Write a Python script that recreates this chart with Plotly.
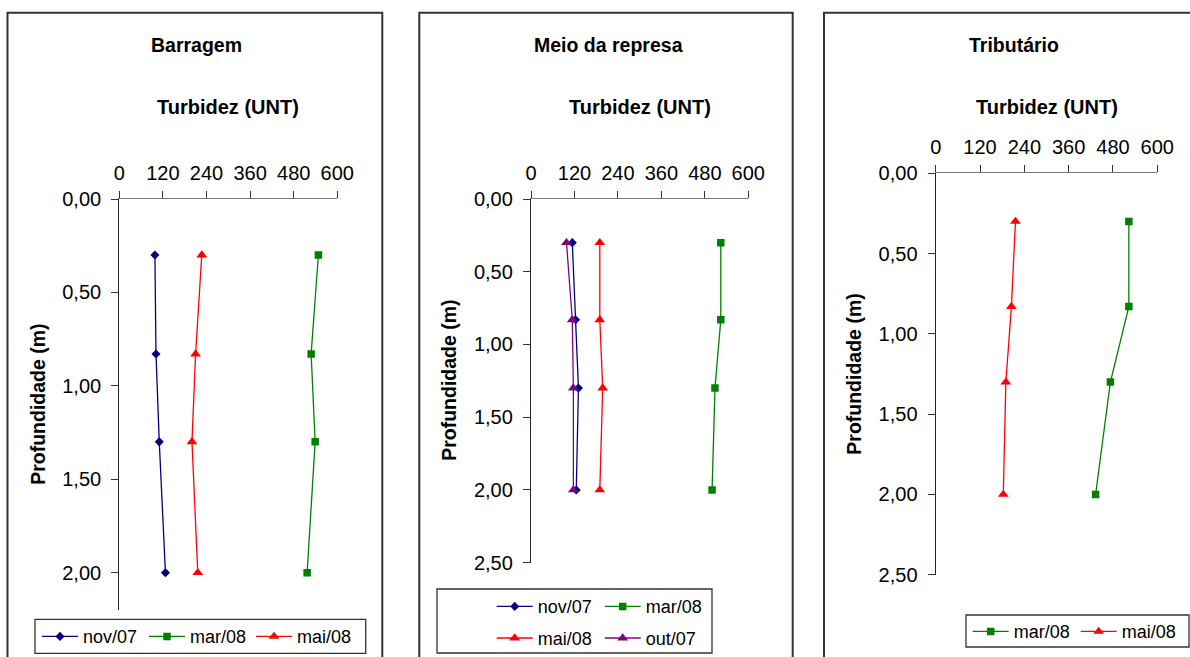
import plotly.graph_objects as go

W, H = 1190, 657

# ---------------- data ----------------
depth_m = [0.30, 0.83, 1.30, 2.00]

barragem_nov07 = [98, 101, 110, 127]
barragem_mar08 = [548, 528, 539, 517]
barragem_mai08 = [227, 210, 200, 216]

meio_nov07 = [114, 123, 131, 125]
meio_mar08 = [524, 524, 508, 500]
meio_mai08 = [190, 190, 198, 190]
meio_out07 = [98, 114, 117, 117]

trib_mar08 = [523, 523, 473, 433]
trib_mai08 = [216, 205, 190, 183]

x_ticks = [0, 120, 240, 360, 480, 600]
panel_titles = ["Barragem", "Meio da represa", "Tributário"]
x_title = "Turbidez (UNT)"
y_title = "Profundidade (m)"

NAVY, GREEN, RED, PURPLE = "#000080", "#008000", "#FF0000", "#800080"
FONT = "Liberation Sans, Arial, sans-serif"


def px(x):
    return x / W


def py(y):
    return 1 - y / H


fig = go.Figure()

SYM = {"diamond": 7, "square": 7.5, "triangle-up": 9.5}


def add(xvals, name, color, symbol, xa, ya, legend):
    fig.add_trace(go.Scatter(
        x=xvals, y=depth_m, name=name, mode="lines+markers",
        line=dict(color=color, width=1.3),
        marker=dict(color=color, symbol=symbol, size=SYM[symbol], line=dict(width=0)),
        xaxis=xa, yaxis=ya, legend=legend))


# panel 1
add(barragem_nov07, "nov/07", NAVY, "diamond", "x", "y", "legend")
add(barragem_mar08, "mar/08", GREEN, "square", "x", "y", "legend")
add(barragem_mai08, "mai/08", RED, "triangle-up", "x", "y", "legend")
# panel 2
add(meio_nov07, "nov/07", NAVY, "diamond", "x2", "y2", "legend2")
add(meio_mar08, "mar/08", GREEN, "square", "x2", "y2", "legend2")
add(meio_mai08, "mai/08", RED, "triangle-up", "x2", "y2", "legend4")
add(meio_out07, "out/07", PURPLE, "triangle-up", "x2", "y2", "legend4")
# panel 3
add(trib_mar08, "mar/08", GREEN, "square", "x3", "y3", "legend3")
add(trib_mai08, "mai/08", RED, "triangle-up", "x3", "y3", "legend3")

# axes geometry (pixels)
panels = [
    dict(x0=119.3, x1=337.3, y0=199.0, y1=610.0, ymax=2.2, box=(7.5, 12.7, 382.3, 670), tcx=196.0),
    dict(x0=531.0, x1=748.3, y0=199.0, y1=562.7, ymax=2.5, box=(419.3, 12.7, 792.7, 670), tcx=608.0),
    dict(x0=935.7, x1=1157.3, y0=173.3, y1=574.7, ymax=2.5, box=(824.0, 12.7, 1200, 670), tcx=1013.8),
]

layout = dict(
    width=W, height=H, margin=dict(l=0, r=0, t=0, b=0, autoexpand=False),
    paper_bgcolor="white", plot_bgcolor="white", separators=",.",
    font=dict(family=FONT, color="black", size=20),
    showlegend=True,
)

shapes = []
annotations = []
for i, p in enumerate(panels):
    sfx = "" if i == 0 else str(i + 1)
    layout["xaxis" + sfx] = dict(
        domain=[px(p["x0"]), px(p["x1"])], anchor="y" + sfx, side="top",
        range=[0, 600], tickvals=x_ticks, ticks="outside", ticklen=7,
        tickcolor="#333", showline=True, linecolor="#777", linewidth=1.3,
        showgrid=False, zeroline=False, tickfont=dict(size=20),
        ticklabelstandoff=3, fixedrange=True)
    layout["yaxis" + sfx] = dict(
        domain=[py(p["y1"]), py(p["y0"])], anchor="x" + sfx,
        range=[p["ymax"], 0], tickvals=[0, 0.5, 1.0, 1.5, 2.0, 2.5],
        tickformat=".2f", ticks="outside", ticklen=7, tickcolor="#333",
        showline=True, linecolor="#222", linewidth=1.3, showgrid=False,
        zeroline=False, tickfont=dict(size=20), ticklabelstandoff=6,
        fixedrange=True)
    bx0, by0, bx1, by1 = p["box"]
    shapes.append(dict(type="rect", xref="paper", yref="paper",
                       x0=px(bx0), x1=px(bx1), y0=py(by1), y1=py(by0),
                       line=dict(color="#333", width=2)))
    annotations.append(dict(text="<b>%s</b>" % panel_titles[i], xref="paper", yref="paper",
                            x=px(p["tcx"]), y=py(44.5), xanchor="center", yanchor="middle",
                            showarrow=False, font=dict(size=19.5)))
    annotations.append(dict(text="<b>%s</b>" % x_title, xref="paper", yref="paper",
                            x=px((p["x0"] + p["x1"]) / 2), y=py(107.5),
                            xanchor="center", yanchor="middle", showarrow=False,
                            font=dict(size=20)))
    annotations.append(dict(text="<b>%s</b>" % y_title, xref="paper", yref="paper",
                            x=px(p["x0"] - 82), y=py((p["y0"] + p["y1"]) / 2),
                            xanchor="center", yanchor="middle",
                            textangle=-90, showarrow=False, font=dict(size=19.5)))

# legend boxes
for (x0, y0, x1, y1) in [(35, 619.3, 365.7, 653.3), (437, 589, 712, 653), (966, 615, 1189, 647)]:
    shapes.append(dict(type="rect", xref="paper", yref="paper",
                       x0=px(x0), x1=px(x1), y0=py(y1), y1=py(y0),
                       line=dict(color="#333", width=1.3)))

leg_common = dict(orientation="h", xanchor="left", yanchor="middle",
                  bgcolor="rgba(0,0,0,0)", borderwidth=0, itemwidth=36,
                  font=dict(size=18, family=FONT), entrywidthmode="pixels")
layout["legend"] = dict(leg_common, x=px(42 - 5), y=py(636.7), entrywidth=56)
layout["legend2"] = dict(leg_common, x=px(496.7 - 5), y=py(606.7), entrywidth=57)
layout["legend4"] = dict(leg_common, x=px(496.7 - 5), y=py(638.3), entrywidth=57)
layout["legend3"] = dict(leg_common, x=px(972.7 - 5), y=py(631.7), entrywidth=57)

layout["shapes"] = shapes
layout["annotations"] = annotations
fig.update_layout(**layout)

fig.write_html("out.html")
